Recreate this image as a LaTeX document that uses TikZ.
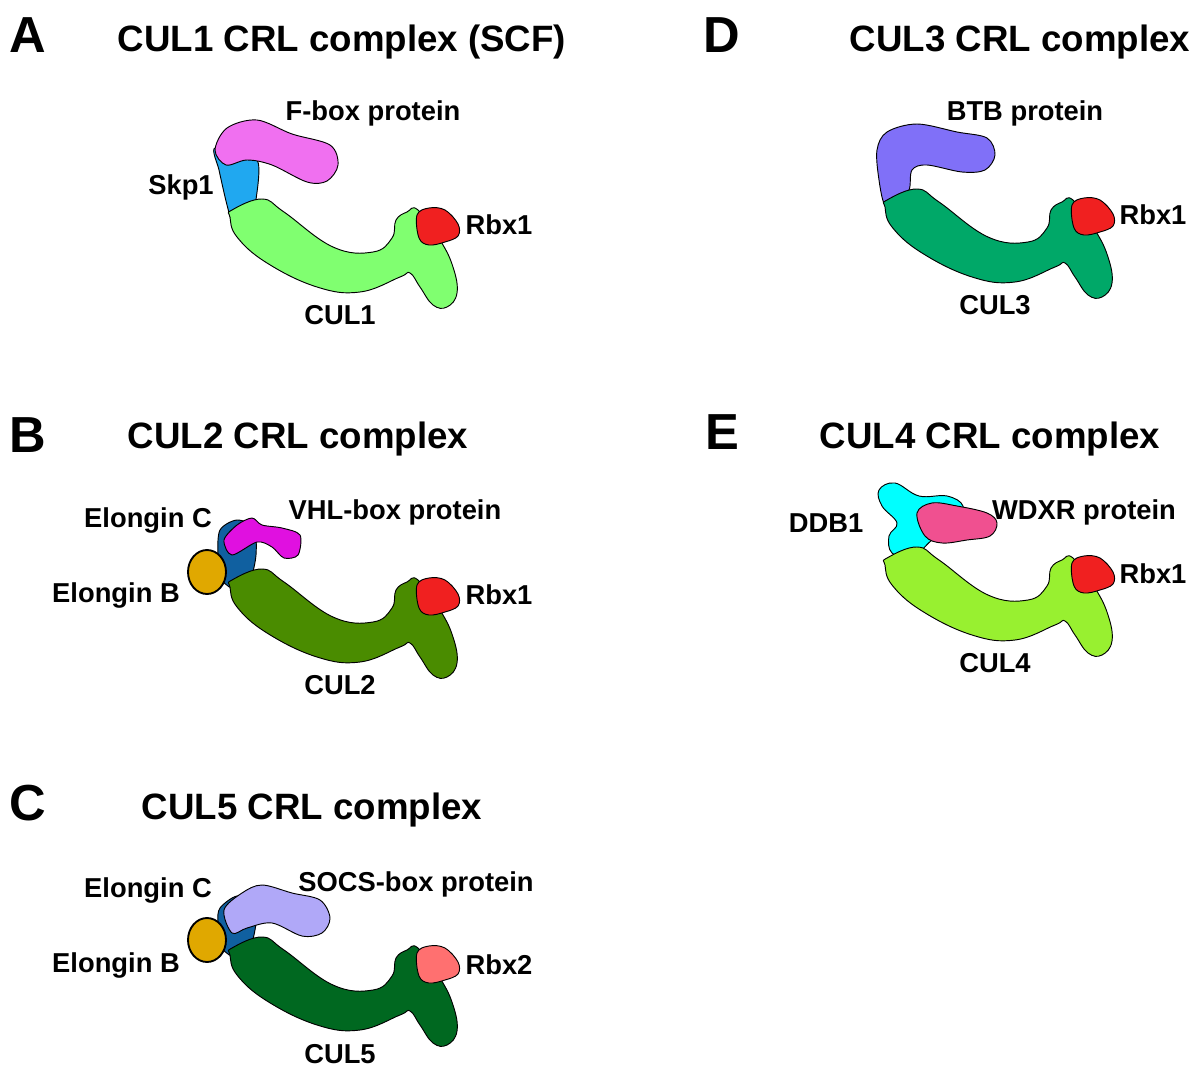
\documentclass[tikz,border=0pt]{standalone}
\usepackage{fontspec}
\setmainfont{Liberation Sans}
\begin{document}
\begin{tikzpicture}[x=0.75pt,y=-0.75pt,
 blob/.style={draw=black,line width=0.7pt},
 lab/.style={font=\bfseries\fontsize{20.5}{22}\selectfont,inner sep=0pt},
 ttl/.style={font=\bfseries\fontsize{27.5}{30}\selectfont,inner sep=0pt},
 let/.style={font=\bfseries\fontsize{38}{40}\selectfont,inner sep=0pt}]
\useasboundingbox (0,0) rectangle (1200,1074);
\definecolor{cA}{HTML}{80FF70}\definecolor{skp}{HTML}{20A8F0}\definecolor{fbx}{HTML}{F070F0}
\definecolor{rbx}{HTML}{F02020}\definecolor{cB}{HTML}{4A8C00}\definecolor{vhl}{HTML}{E010E0}
\definecolor{eloc}{HTML}{1060A0}\definecolor{elob}{HTML}{E0A800}\definecolor{cC}{HTML}{006820}
\definecolor{socs}{HTML}{B0A8F8}\definecolor{rbxb}{HTML}{FF7070}\definecolor{cD}{HTML}{00A868}
\definecolor{btb}{HTML}{8070F8}\definecolor{cE}{HTML}{98F030}\definecolor{ddb}{HTML}{00FFFF}
\definecolor{wdx}{HTML}{F05090}
\newcommand{\mycul}[1]{\draw[blob,fill=#1] plot[smooth cycle,tension=0.7] coordinates{(0,0)(30,-11)(52,2)(101,37)(141,42)(160,28)(164,10)(175,2)(186,0)(208,30)(221,57)(225,83)(215,97)(201,95)(188,77)(178,63)(168,67)(128,82)(85,77)(35,53)(5,27)(-2,7)};}
\newcommand{\myrbx}[1]{\draw[blob,fill=#1] plot[smooth cycle,tension=0.6] coordinates{(185,5)(197,-2)(213,0)(226,14)(226,26)(213,32)(197,35)(187,28)};}
% ---------- A
\node[let] (la) at (28,35) {A};
\node[ttl] (ta) at (342,42) {CUL1 CRL complex (SCF)};
\begin{scope}[shift={(232,210)}]
\draw[blob,fill=skp] plot[smooth cycle,tension=0.4] coordinates{(-17,-62)(25,-50)(24,-10)(20,5)(2,15)(-5,-5)(-13,-40)};
\mycul{cA}
\draw[blob,fill=fbx] plot[smooth cycle,tension=0.55] coordinates{(-17,-60)(-5,-82)(25,-90)(60,-76)(98,-65)(106,-45)(95,-29)(75,-28)(40,-45)(15,-50)(-6,-45)};
\myrbx{rbx}
\end{scope}
\node[lab] (fa) at (373,113) {F-box protein};
\node[lab] (sa) at (181,187) {Skp1};
\node[lab] (ra) at (499,225) {Rbx1};
\node[lab] (ca) at (340,315) {CUL1};
% ---------- B
\node[let] (lb) at (28,435) {B};
\node[ttl] (tb) at (298,439) {CUL2 CRL complex};
\begin{scope}[shift={(232,580)}]
\draw[blob,fill=eloc] plot[smooth cycle,tension=0.5] coordinates{(-12,-50)(5,-60)(22,-52)(24,-25)(18,0)(5,10)(-10,0)(-14,-25)};
\mycul{cB}
\draw[blob,fill=vhl] plot[smooth cycle,tension=0.5] coordinates{(-8,-40)(5,-55)(20,-62)(30,-55)(50,-52)(68,-45)(66,-25)(52,-22)(40,-33)(25,-38)(0,-25)};
\myrbx{rbx}
\draw[line width=1.4pt,fill=elob] (-25,-8) ellipse (19 and 22);
\end{scope}
\node[lab] (vb) at (395,512) {VHL-box protein};
\node[lab] (ecb) at (148,520) {Elongin C};
\node[lab] (ebb) at (116,595) {Elongin B};
\node[lab] (rb) at (499,595) {Rbx1};
\node[lab] (cb) at (340,685) {CUL2};
% ---------- C
\node[let] (lc) at (28,803) {C};
\node[ttl] (tc) at (312,810) {CUL5 CRL complex};
\begin{scope}[shift={(232,948)}]
\draw[blob,fill=eloc] plot[smooth cycle,tension=0.5] coordinates{(-12,-40)(5,-52)(22,-45)(24,-25)(18,0)(5,10)(-10,0)(-14,-25)};
\mycul{cC}
\draw[blob,fill=socs] plot[smooth cycle,tension=0.55] coordinates{(-8,-38)(10,-55)(30,-63)(60,-55)(88,-48)(98,-30)(90,-15)(70,-12)(40,-25)(15,-20)(0,-15)};
\myrbx{rbxb}
\draw[line width=1.4pt,fill=elob] (-25,-8) ellipse (19 and 22);
\end{scope}
\node[lab] (sc) at (416,884) {SOCS-box protein};
\node[lab] (ecc) at (148,890) {Elongin C};
\node[lab] (ebc) at (116,965) {Elongin B};
\node[lab] (rc) at (499,965) {Rbx2};
\node[lab] (cc) at (340,1054) {CUL5};
% ---------- D
\node[let] (ld) at (722,35) {D};
\node[ttl] (td) at (1020,42) {CUL3 CRL complex};
\begin{scope}[shift={(887,200)}]
\draw[blob,fill=btb] plot[smooth cycle,tension=0.55] coordinates{(-2,5)(-8,-20)(-10,-50)(0,-68)(30,-76)(70,-68)(100,-62)(108,-45)(98,-30)(75,-28)(40,-35)(25,-30)(22,-10)(10,0)};
\mycul{cD}
\myrbx{rbx}
\end{scope}
\node[lab] (bd) at (1025,113) {BTB protein};
\node[lab] (rd) at (1153,215) {Rbx1};
\node[lab] (cd) at (995,305) {CUL3};
% ---------- E
\node[let] (le) at (722,432) {E};
\node[ttl] (te) at (990,439) {CUL4 CRL complex};
\begin{scope}[shift={(887,558)}]
\draw[blob,fill=ddb] plot[smooth cycle,tension=0.65] coordinates{(5,-5)(2,-22)(10,-35)(-5,-52)(-8,-68)(8,-75)(32,-62)(60,-62)(76,-52)(70,-35)(45,-18)(25,0)};
\mycul{cE}
\draw[blob,fill=wdx] plot[smooth cycle,tension=0.6] coordinates{(30,-45)(45,-55)(70,-52)(100,-45)(110,-35)(103,-22)(80,-18)(55,-15)(38,-22)};
\myrbx{rbx}
\end{scope}
\node[lab] (we) at (1084,512) {WDXR protein};
\node[lab] (de) at (826,523) {DDB1};
\node[lab] (re) at (1153,574) {Rbx1};
\node[lab] (ce) at (995,663) {CUL4};
\end{tikzpicture}
\end{document}
